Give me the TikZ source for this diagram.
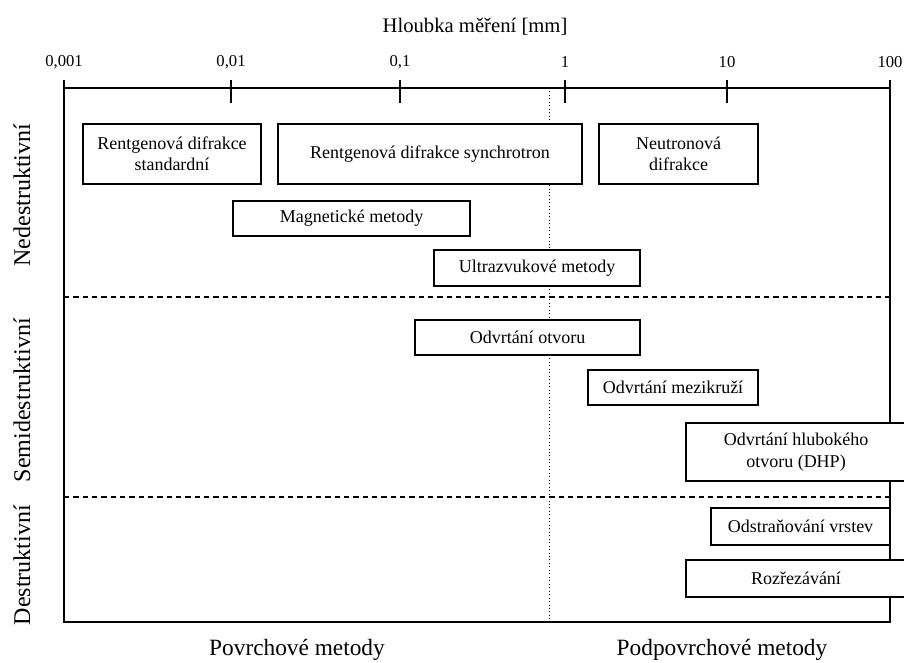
\documentclass[tikz,border=0pt]{standalone}
\usepackage{fontspec}
\setmainfont{Liberation Serif}
\begin{document}
\begin{tikzpicture}[x=0.75pt,y=-0.75pt,
  frame/.style={line width=1.1pt},
  sep/.style={line width=0.8pt,dash pattern=on 4pt off 3pt},
  mbox/.style={draw,fill=white,line width=0.9pt,align=center,inner sep=0pt,font=\fontsize{13.5}{16}\selectfont},
  tlab/.style={font=\fontsize{12.5}{14}\selectfont},
  sidelab/.style={rotate=90,font=\fontsize{18}{20}\selectfont},
  botlab/.style={font=\fontsize{17.5}{20}\selectfont}]
\useasboundingbox (0,0) rectangle (904,662);
\clip (0,0) rectangle (904,662);
% title
\node[font=\fontsize{15.5}{18}\selectfont] (title) at (475,27) {Hloubka měření [mm]};
% axis
\coordinate (a0) at (64,88);
\coordinate (a5) at (890,88);
\draw[frame] (a0) -- (a5);
\foreach \x/\l [count=\i] in {64/{0,001},231/{0,01},400/{0,1},565/1,727/10,890/100}{
  \draw[frame] (\x,80) -- (\x,103);
  \node[tlab] (t\i) at (\x,62) {\l};
}
% frame
\coordinate (bl) at (64,622);
\coordinate (br) at (890,622);
\draw[frame] (a0) -- (bl) -- (br) -- (a5);
% dotted
\coordinate (dt) at (549,88);
\coordinate (db) at (549,622);
\draw[dotted,line width=0.6pt] (dt) -- (db);
% dashed separators
\coordinate (s1l) at (64,297); \coordinate (s1r) at (890,297);
\coordinate (s2l) at (64,497); \coordinate (s2r) at (890,497);
\draw[sep] (s1l) -- (s1r);
\draw[sep] (s2l) -- (s2r);
% boxes
\node[mbox,minimum width=133.5pt,minimum height=45pt] (b1) at (172,154) {Rentgenová difrakce\\standardní};
\node[mbox,minimum width=228pt,minimum height=45pt] (b2) at (430,154) {Rentgenová difrakce synchrotron};
\node[mbox,minimum width=119.25pt,minimum height=45pt] (b3) at (678.5,154) {Neutronová\\difrakce};
\node[mbox,minimum width=177.75pt,minimum height=26.25pt] (b4) at (351.5,218.5) {Magnetické metody};
\node[mbox,minimum width=154.5pt,minimum height=27pt] (b5) at (537,268) {Ultrazvukové metody};
\node[mbox,minimum width=168.75pt,minimum height=26.25pt] (b6) at (527.5,337.5) {Odvrtání otvoru};
\node[mbox,minimum width=127.5pt,minimum height=26.25pt] (b7) at (673,387.5) {Odvrtání mezikruží};
\node[mbox,minimum width=165pt,minimum height=43.5pt] (b8) at (796,452) {Odvrtání hlubokého\\otvoru (DHP)};
\node[mbox,minimum width=134.25pt,minimum height=27.75pt] (b9) at (800.5,526.5) {Odstraňování vrstev};
\node[mbox,minimum width=165pt,minimum height=27.75pt] (b10) at (796,578.5) {Rozřezávání};
% side labels
\node[sidelab] (n1) at (22,195) {Nedestruktivní};
\node[sidelab] (n2) at (22,400) {Semidestruktivní};
\node[sidelab] (n3) at (22,565) {Destruktivní};
% bottom labels
\node[botlab] (p1) at (297,650) {Povrchové metody};
\node[botlab] (p2) at (722,650) {Podpovrchové metody};
\end{tikzpicture}
\end{document}
